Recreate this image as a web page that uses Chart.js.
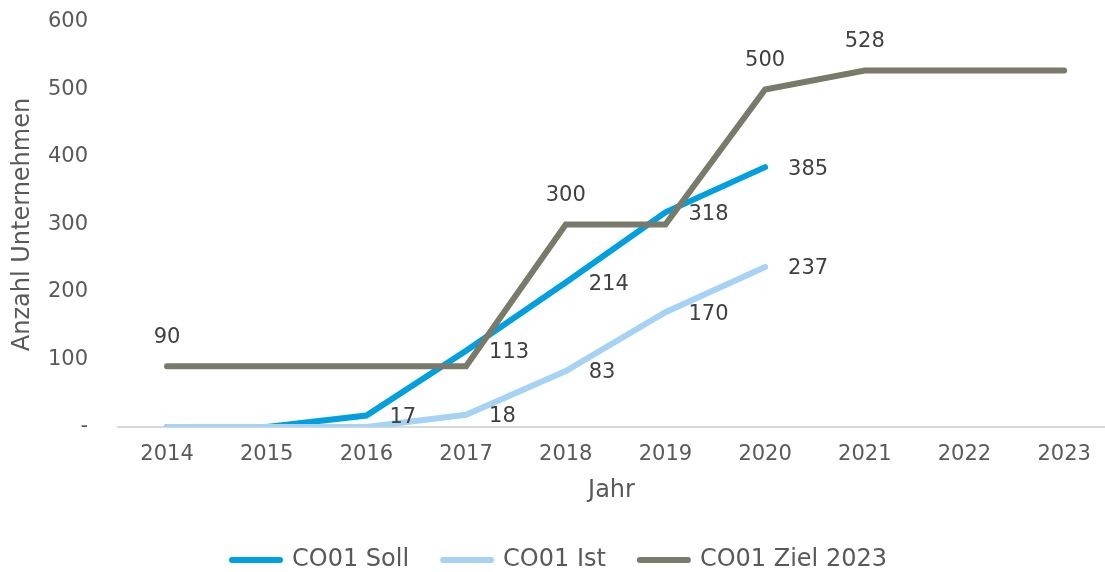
<!DOCTYPE html>
<html>
<head>
<meta charset="utf-8">
<script src="https://cdn.jsdelivr.net/npm/chart.js@4/dist/chart.umd.min.js"></script>
<style>
  html, body { margin: 0; padding: 0; background: #fff; overflow: hidden; }
  #wrap { width: 1105px; height: 572px; position: relative; }
</style>
</head>
<body>
<div id="wrap"><canvas id="chart"></canvas></div>
<script>
// Data
const years = [2014, 2015, 2016, 2017, 2018, 2019, 2020, 2021, 2022, 2023];
const soll = [0, 0, 17, 113, 214, 318, 385, null, null, null];
const ist = [0, 0, 0, 18, 83, 170, 237, null, null, null];
const ziel = [90, 90, 90, 90, 300, 300, 500, 528, 528, 528];
const yTicks = [0, 100, 200, 300, 400, 500, 600];

const FONT = "'DejaVu Sans', Verdana, sans-serif";
Chart.defaults.font.family = FONT;
Chart.defaults.color = '#595959';

const toPoints = arr => years.map((y, i) => ({ x: y, y: arr[i] }));

// value labels: skip zeros and repeated values
const valueLabels = {
  id: 'valueLabels',
  afterLayout(chart) {
    // nudge legend to the right like the original
    chart.legend.left += 7;
    chart.legend.right += 7;
  },
  afterDatasetsDraw(chart) {
    const ctx = chart.ctx;
    ctx.save();
    ctx.font = '21px ' + FONT;
    ctx.fillStyle = '#404040';
    ctx.textBaseline = 'middle';
    chart.data.datasets.forEach((ds, di) => {
      const meta = chart.getDatasetMeta(di);
      ds.data.forEach((p, i) => {
        if (p.y === null || p.y === 0) return;
        if (i > 0 && ds.data[i - 1].y === p.y) return;
        const el = meta.data[i];
        if (ds.labelPos === 'above') {
          ctx.textAlign = 'center';
          ctx.fillText(p.y, el.x, el.y - 29);
        } else {
          ctx.textAlign = 'left';
          ctx.fillText(p.y, el.x + 23, el.y + 2);
        }
      });
    });
    ctx.restore();
  }
};

const line = (label, data, color, order, labelPos) => ({
  label, data: toPoints(data), borderColor: color, backgroundColor: color,
  borderWidth: 6, borderCapStyle: 'round', order, labelPos
});

new Chart(document.getElementById('chart'), {
  type: 'line',
  data: {
    datasets: [
      line('CO01 Soll', soll, '#009FDF', 3, 'right'),
      line('CO01 Ist', ist, '#A6D3F4', 2, 'right'),
      line('CO01 Ziel 2023', ziel, '#7A7A6A', 1, 'above')
    ]
  },
  options: {
    responsive: true,
    maintainAspectRatio: false,
    animation: false,
    layout: { padding: { top: 22, right: 0, left: 0, bottom: -10 } },
    elements: {
      line: { tension: 0 },
      point: { radius: 0, hoverRadius: 0 }
    },
    scales: {
      x: {
        type: 'linear',
        min: 2013.508,
        max: 2023.41,
        afterBuildTicks: s => { s.ticks = years.map(v => ({ value: v })); },
        afterFit: s => { s.height = 87; s.paddingLeft = 0; s.paddingRight = 0; },
        ticks: { font: { size: 21 }, color: '#595959', padding: 15, callback: v => String(v), autoSkip: false, maxRotation: 0 },
        grid: { display: false, drawTicks: false },
        border: { display: true, color: '#D9D9D9', width: 2 },
        title: { display: true, text: 'Jahr', font: { size: 24 }, color: '#595959', padding: { top: 0, bottom: 9 } }
      },
      y: {
        min: 0,
        max: 600,
        afterBuildTicks: s => { s.ticks = yTicks.map(v => ({ value: v })); },
        afterFit: s => { s.width = 118; s.paddingTop = 0; s.paddingBottom = 0; },
        ticks: { font: { size: 21 }, color: '#595959', padding: 30, callback: v => (v === 0 ? '-' : String(v)) },
        grid: { display: false, drawTicks: false },
        border: { display: false },
        title: { display: true, text: 'Anzahl Unternehmen', font: { size: 24 }, color: '#595959', padding: { top: 8, bottom: 10 } }
      }
    },
    plugins: {
      legend: {
        position: 'bottom',
        labels: {
          font: { size: 24 },
          color: '#595959',
          usePointStyle: true,
          pointStyle: 'line',
          pointStyleWidth: 48,
          padding: 34,
          generateLabels: chart => Chart.defaults.plugins.legend.labels.generateLabels(chart)
            .map(item => ({ ...item, lineCap: 'round', lineWidth: 6 })),
          sort: (a, b) => a.datasetIndex - b.datasetIndex
        }
      },
      tooltip: { enabled: false }
    }
  },
  plugins: [valueLabels]
});
</script>
</body>
</html>
